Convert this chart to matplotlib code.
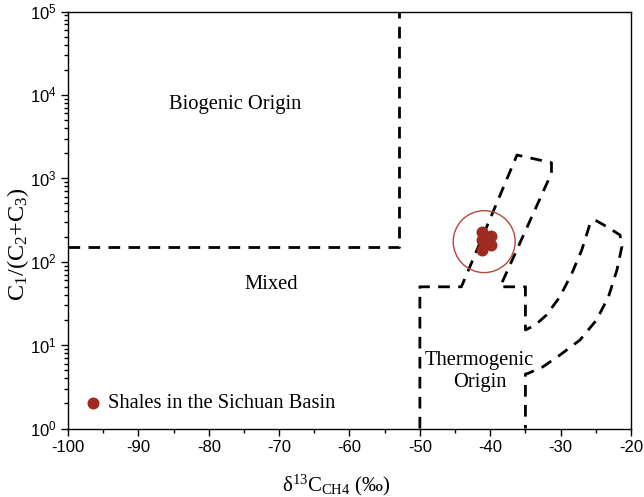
import matplotlib
matplotlib.use("Agg")
import matplotlib.pyplot as plt
from matplotlib.ticker import MultipleLocator, LogLocator, NullFormatter, FixedLocator

plt.rcParams['mathtext.fontset'] = 'custom'
plt.rcParams['mathtext.rm'] = 'Liberation Serif'
plt.rcParams['mathtext.it'] = 'Liberation Serif:italic'
plt.rcParams['mathtext.sf'] = 'Liberation Sans'

# boundary lines
bio_x = [-100, -53, -53]
bio_y = [150, 150, 1e5]

thermo_x = [-50, -50, -44.1, -36.2, -31.3, -31.3, -38.6, -35, -35, -33.6, -32.0, -30.1,
            -28.4, -27.0, -25.8, -25.1, -23.45, -21.56, -21.3, -22.0, -23.2, -24.9,
            -27.25, -30.1, -32.5, -34.6, -35, -35]
thermo_y = [1, 50, 50, 1900, 1540, 1150, 50, 50, 15.2, 17.4, 23.0, 38.0,
            72.6, 138, 289, 316, 263, 209, 151, 79.5, 38, 20,
            11.5, 7.6, 5.5, 4.59, 4.5, 1]

# samples
shale_x = [-41.2, -41.2, -41.2, -39.9, -39.9]
shale_y = [229, 182, 138, 203, 159]
circle_center = (-40.86, 174)

xticks = [-100, -90, -80, -70, -60, -50, -40, -30, -20]
yticks = [1, 10, 100, 1000, 10000, 100000]
ytick_labels = [r'$\mathsf{10^{0}}$', r'$\mathsf{10^{1}}$', r'$\mathsf{10^{2}}$',
                r'$\mathsf{10^{3}}$', r'$\mathsf{10^{4}}$', r'$\mathsf{10^{5}}$']

fig = plt.figure(figsize=(6.44, 4.97), dpi=100)
ax = fig.add_axes([68/644, 1 - 428.5/497, (631-68)/644, (428.5-11.5)/497])
ax.set_yscale('log')
ax.set_xlim(-100, -20)
ax.set_ylim(1, 1e5)

ls = (0, (4.2, 3.0))
ax.plot(bio_x, bio_y, color='black', lw=2.0, linestyle=ls)
ax.plot(thermo_x, thermo_y, color='black', lw=2.0, linestyle=ls)

red = '#9E2A20'
ax.scatter(shale_x, shale_y, s=58, color=red, zorder=5)
ax.scatter([circle_center[0]], [circle_center[1]], s=1990, facecolors='none',
           edgecolors='#B5473A', linewidths=1.0, zorder=4)

serif = 'Liberation Serif'
fs = 14.8
ax.text(-76.3, 7570, 'Biogenic Origin', fontsize=fs, family=serif, ha='center', va='center')
ax.text(-71.1, 52.6, 'Mixed', fontsize=fs, family=serif, ha='center', va='center')
ax.text(-41.5, 4.8, 'Thermogenic\nOrigin', fontsize=fs, family=serif, ha='center', va='center',
        linespacing=1.2)

ax.scatter([-96.4], [2.0], s=58, color=red)
ax.text(-94.3, 2.0, 'Shales in the Sichuan Basin', fontsize=fs, family=serif, ha='left', va='center')

ax.xaxis.set_major_locator(FixedLocator(xticks))
ax.xaxis.set_minor_locator(MultipleLocator(5))
ax.set_xticklabels([str(v) for v in xticks], family='Liberation Sans', fontsize=12)
ax.yaxis.set_major_locator(FixedLocator(yticks))
ax.yaxis.set_minor_locator(LogLocator(base=10, subs=range(2, 10), numticks=20))
ax.yaxis.set_minor_formatter(NullFormatter())
ax.set_yticklabels(ytick_labels, fontsize=12)

ax.tick_params(axis='both', which='major', direction='out', length=5, width=1, pad=3)
ax.tick_params(axis='both', which='minor', direction='out', length=3, width=1)
for s in ax.spines.values():
    s.set_linewidth(1.0)

ax.set_xlabel(r'$\mathrm{δ^{13}C_{CH4}\ (‰)}$', fontsize=15)
ax.xaxis.set_label_coords(0.476, -0.105)
ax.set_ylabel(r'$\mathrm{C_1/(C_2{+}C_3)}$', fontsize=17.5)
ax.yaxis.set_label_coords(-0.066, 0.442)

fig.savefig('out.png', dpi=100)
